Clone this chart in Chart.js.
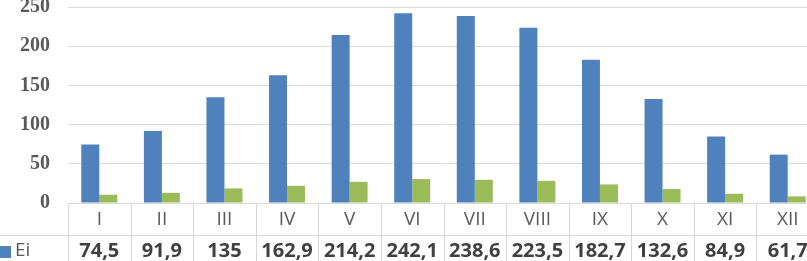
<!DOCTYPE html>
<html>
<head>
<meta charset="utf-8">
<script src="https://cdn.jsdelivr.net/npm/chart.js@4"></script>
<style>
    html, body { margin: 0; padding: 0; background: #fff; overflow: hidden; }
    #wrap { width: 820px; height: 261px; position: relative; }
</style>
</head>
<body>
<div id="wrap"><canvas id="chart"></canvas></div>
<script>
// months as roman numerals
const months = ['I', 'II', 'III', 'IV', 'V', 'VI', 'VII', 'VIII', 'IX', 'X', 'XI', 'XII'];
// Ei series (shown in the table row)
const eiValues = [74.5, 91.9, 135, 162.9, 214.2, 242.1, 238.6, 223.5, 182.7, 132.6, 84.9, 61.7];
// second series, row cut off in the picture ->
const secondValues = [10.5, 13, 18.6, 22, 27, 30.5, 29.6, 28.3, 23.7, 17.8, 11.8, 8.5];
const yTicks = [0, 50, 100, 150, 200, 250];

const BLUE = '#4f81bd';
const GREEN = '#9bbb59';
const LINE = '#d9d9d9';

// draws the data table under the plot
const tablePlugin = {
    id: 'dataTable',
    afterDraw(chart) {
        const ctx = chart.ctx;
        const area = chart.chartArea;
        const x = chart.scales.x;
        const W = chart.width;
        const H = chart.height;
        const colW = (area.right - area.left) / months.length;
        const rowY = 235.5;

        ctx.save();
        ctx.strokeStyle = LINE;
        ctx.lineWidth = 1;
        ctx.beginPath();
        ctx.moveTo(area.left, Math.round(area.bottom) + 0.5);
        ctx.lineTo(W, Math.round(area.bottom) + 0.5);
        ctx.moveTo(0, rowY);
        ctx.lineTo(W, rowY);
        for (let i = 0; i <= months.length; i++) {
            const px = Math.round(area.left + i * colW) + 0.5;
            ctx.moveTo(px, Math.round(area.bottom));
            ctx.lineTo(px, H);
        }
        ctx.stroke();

        ctx.textAlign = 'center';
        ctx.textBaseline = 'middle';
        months.forEach((m, i) => {
            const cx = x.getPixelForValue(i);
            ctx.fillStyle = '#595959';
            ctx.font = '19px "Open Sans"';
            ctx.fillText(m, cx, 220);
            ctx.fillStyle = '#404040';
            ctx.font = 'bold 20px "Open Sans"';
            ctx.fillText(String(eiValues[i]).replace('.', ','), cx, 251);
        });

        // legend key + series name
        ctx.fillStyle = BLUE;
        ctx.fillRect(0, 246, 11, 12);
        ctx.fillStyle = '#595959';
        ctx.textAlign = 'left';
        ctx.font = '19px "Open Sans"';
        ctx.fillText('Ei', 15, 251);
        ctx.restore();
    }
};

const chart = new Chart(document.getElementById('chart'), {
    type: 'bar',
    data: {
        labels: months,
        datasets: [{
            label: 'Ei',
            data: eiValues,
            backgroundColor: BLUE,
            borderWidth: 0,
            categoryPercentage: 0.575,
            barPercentage: 1.0
        }, {
            label: 'Series 2',
            data: secondValues,
            backgroundColor: GREEN,
            borderWidth: 0,
            categoryPercentage: 0.575,
            barPercentage: 1.0
        }]
    },
    options: {
        responsive: true,
        maintainAspectRatio: false,
        animation: false,
        layout: {
            padding: { top: 0, right: 1, bottom: 58, left: 0 }
        },
        plugins: {
            legend: { display: false },
            tooltip: { enabled: false }
        },
        scales: {
            x: {
                display: false
            },
            y: {
                min: 0,
                max: 250,
                afterBuildTicks: (scale) => {
                    scale.ticks = yTicks.map(v => ({ value: v }));
                },
                afterFit: (scale) => {
                    scale.width = 68;
                    scale.paddingTop = 7;   // 250 gridline sits near the top edge
                    scale.paddingBottom = 0;
                },
                grid: {
                    color: LINE,
                    drawTicks: false
                },
                border: { display: false },
                ticks: {
                    color: '#595959',
                    padding: 18,
                    font: {
                        size: 20,
                        weight: 'bold',
                        family: '"Liberation Serif", "Times New Roman", serif'
                    }
                }
            }
        }
    },
    plugins: [tablePlugin]
});
</script>
</body>
</html>
